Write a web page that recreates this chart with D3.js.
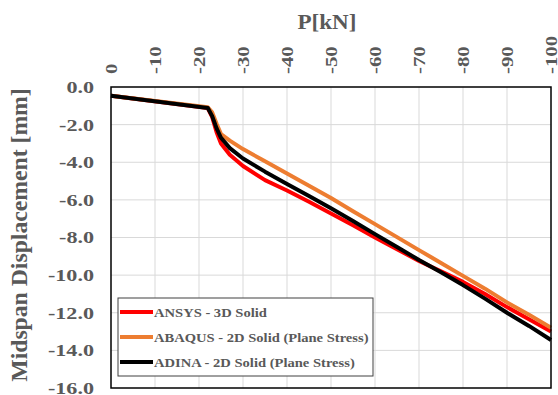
<!DOCTYPE html>
<meta charset="utf-8">
<style>
body { margin: 0; background: #fff; }
text { font-family: "Liberation Serif", "Times New Roman", serif; font-weight: bold; fill: #595959; }
.grid line { stroke: #d9d9d9; stroke-width: 1px; }
.line { fill: none; stroke-width: 4px; stroke-linejoin: round; }
</style>
<svg width="558" height="395"></svg>
<script src="https://d3js.org/d3.v7.min.js"></script>
<script>
// load steps shared by all three curves [kN]
var load = [0, 22, 23, 24, 25, 27, 30, 35, 40, 45, 50, 55, 60, 65, 70, 75, 80, 85, 90, 95, 100];
var ansys  = [-0.46, -1.12, -1.6, -2.4, -3.0, -3.6, -4.2, -4.95, -5.5, -6.1, -6.72, -7.35, -8.0, -8.62, -9.25, -9.8, -10.36, -11.0, -11.7, -12.35, -13.0];
var abaqus = [-0.46, -1.08, -1.35, -1.95, -2.5, -2.85, -3.3, -3.95, -4.6, -5.25, -5.9, -6.6, -7.29, -7.98, -8.67, -9.35, -10.04, -10.72, -11.45, -12.1, -12.8];
var adina  = [-0.46, -1.12, -1.55, -2.2, -2.7, -3.25, -3.8, -4.5, -5.15, -5.8, -6.45, -7.12, -7.82, -8.5, -9.2, -9.85, -10.53, -11.25, -12.0, -12.7, -13.45];

var seriesNames = ["ANSYS - 3D Solid", "ABAQUS - 2D Solid (Plane Stress)", "ADINA - 2D Solid (Plane Stress)"];
var seriesColors = ["#ff0000", "#ed7d31", "#000000"];
var xTicks = [0, -10, -20, -30, -40, -50, -60, -70, -80, -90, -100];
var yTicks = [0, -2, -4, -6, -8, -10, -12, -14, -16];

var svg = d3.select("svg");
var mLeft = 111, mRight = 551, mTop = 87, mBottom = 388;

var x = d3.scaleLinear().domain([0, -100]).range([mLeft, mRight]);
var y = d3.scaleLinear().domain([0, -16]).range([mTop, mBottom]);

// the original text is drawn a bit wider than Times; stretch it along its baseline
function widen(sel, k) {
  sel.each(function() {
    var w = this.getComputedTextLength();
    d3.select(this).attr("textLength", w * k).attr("lengthAdjust", "spacingAndGlyphs");
  });
}

// grid
var grid = svg.append("g").attr("class", "grid");
grid.selectAll(".v").data(xTicks.slice(1, -1)).enter().append("line")
    .attr("x1", d => x(d)).attr("x2", d => x(d))
    .attr("y1", mTop).attr("y2", mBottom);
grid.selectAll(".h").data(yTicks.slice(1, -1)).enter().append("line")
    .attr("x1", mLeft).attr("x2", mRight)
    .attr("y1", d => y(d)).attr("y2", d => y(d));

// axes (labels only, x labels rotated on top)
var xAxis = svg.append("g")
    .attr("transform", "translate(0," + mTop + ")")
    .call(d3.axisTop(x).tickValues(xTicks).tickSize(0).tickFormat(d3.format("d")));
xAxis.select(".domain").remove();
xAxis.selectAll("text")
    .attr("transform", "rotate(-90)")
    .attr("x", 13).attr("y", 0)
    .attr("dy", "0.32em")
    .style("text-anchor", "start")
    .style("font-size", "16px")
    .style("font-family", null);

var yAxis = svg.append("g")
    .attr("transform", "translate(" + mLeft + ",0)")
    .call(d3.axisLeft(y).tickValues(yTicks).tickSize(0).tickFormat(d3.format(".1f")));
yAxis.select(".domain").remove();
yAxis.selectAll("text")
    .attr("x", -17)
    .style("font-size", "17px")
    .style("font-family", null);
svg.selectAll(".tick text").text(function() { return this.textContent.replace("\u2212", "-"); });
widen(xAxis.selectAll("text"), 1.3);
widen(yAxis.selectAll("text"), 1.3);

// series
var line = d3.line().x(d => x(d[0])).y(d => y(d[1]));
[ansys, abaqus, adina].forEach(function(vals, i) {
  svg.append("path")
      .datum(load.map((p, j) => [-p, vals[j]]))
      .attr("class", "line")
      .attr("stroke", seriesColors[i])
      .attr("d", line);
});

// plot frame
svg.append("rect")
    .attr("x", mLeft).attr("y", mTop)
    .attr("width", mRight - mLeft).attr("height", mBottom - mTop)
    .attr("fill", "none").attr("stroke", "#000").attr("stroke-width", 1.5);

// titles
svg.append("text")
    .attr("x", 327).attr("y", 29)
    .attr("text-anchor", "middle")
    .style("font-size", "21px")
    .text("P[kN]")
    .call(widen, 1.1);
svg.append("text")
    .attr("transform", "translate(27,235) rotate(-90)")
    .attr("text-anchor", "middle")
    .style("font-size", "23px")
    .text("Midspan Displacement [mm]")
    .call(widen, 1.03);

// legend
var lg = svg.append("g").attr("transform", "translate(118,298)");
lg.append("rect").attr("width", 255).attr("height", 78)
    .attr("fill", "#fff").attr("stroke", "#404040").attr("stroke-width", 1);
seriesNames.forEach(function(name, i) {
  var ly = 14 + i * 25;
  lg.append("line").attr("x1", 2).attr("x2", 35).attr("y1", ly).attr("y2", ly)
      .attr("stroke", seriesColors[i]).attr("stroke-width", 4);
  lg.append("text").attr("x", 36).attr("y", ly).attr("dy", "0.35em")
      .style("font-size", "13px").text(name)
      .call(widen, 1.12);
});
</script>
